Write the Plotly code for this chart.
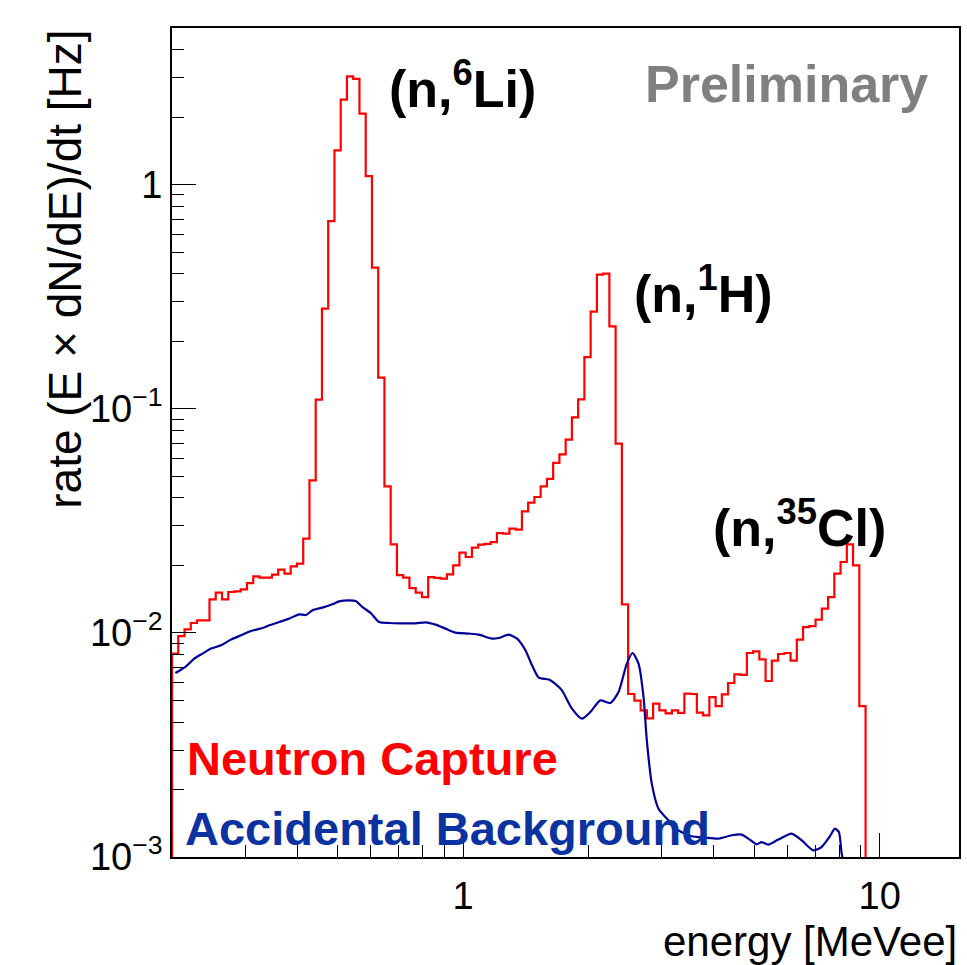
import numpy as np
import plotly.graph_objects as go

# ---------------- data ----------------
# Neutron-capture spectrum: histogram with log-uniform bins starting at 0.2 MeVee
bin_start = 0.2          # MeVee, lower edge of first bin
bin_dlog = 0.015         # bin width in decades
capture_rate = [
    0.00808, 0.00968, 0.01037, 0.01107, 0.01138, 0.01138, 0.01411, 0.01512, 0.01411, 0.01522,
    0.01533, 0.01564, 0.01669, 0.01788, 0.01764, 0.01764, 0.01820, 0.01915, 0.01838, 0.01981,
    0.02037, 0.02634, 0.04794, 0.1098, 0.2797, 0.688, 1.422, 2.394, 3.042, 2.965,
    2.074, 1.092, 0.4263, 0.1377, 0.04507, 0.02484, 0.01812, 0.01764, 0.01585, 0.01512,
    0.01445, 0.01775, 0.01760, 0.01746, 0.01826, 0.02001, 0.02281, 0.02181, 0.02402, 0.02476,
    0.02496, 0.02543, 0.02789, 0.02772, 0.02918, 0.02888, 0.03485, 0.03814, 0.04039, 0.04507,
    0.04869, 0.05738, 0.06260, 0.07283, 0.09157, 0.1102, 0.1701, 0.2713, 0.3971, 0.4008,
    0.2332, 0.0699, 0.01341, 0.005337, 0.004985, 0.004513, 0.004157, 0.004834, 0.004513, 0.004376,
    0.004513, 0.004398, 0.005358, 0.005337, 0.004412, 0.004287, 0.005173, 0.004711, 0.005320, 0.005975,
    0.006533, 0.006500, 0.008131, 0.008275, 0.007621, 0.006099, 0.007520, 0.008049, 0.008131, 0.007520,
    0.009331, 0.01062, 0.01073, 0.01146, 0.01283, 0.01445, 0.01838, 0.02071, 0.02484, 0.02001,
    0.004711, 0, 0, 0, 0, 0, 0, 0, 0, 0,
    0, 0, 0, 0, 0, 0,
]

# Accidental background (smooth curve)
bkg_energy = [
    0.2038, 0.2161, 0.2262, 0.2368, 0.2481, 0.2622, 0.2770, 0.2927, 0.3094, 0.3299,
    0.3423, 0.3617, 0.3822, 0.4040, 0.4193, 0.4348, 0.4592, 0.4853, 0.5036, 0.5321,
    0.5522, 0.5727, 0.5998, 0.6280, 0.6636, 0.7141, 0.7690, 0.8125, 0.8587, 0.9073,
    0.9588, 1.0318, 1.0903, 1.1733, 1.2175, 1.2867, 1.3470, 1.4110, 1.4633, 1.5182,
    1.6045, 1.6797, 1.7268, 1.8246, 1.9281, 2.0195, 2.1341, 2.2555, 2.3605, 2.4711,
    2.5503, 2.6363, 2.7102, 2.7600, 2.8366, 2.9436, 3.1109, 3.2867, 3.5375, 3.8082,
    4.1002, 4.4116, 4.6611, 4.8374, 5.0641, 5.2047, 5.4016, 5.7081, 6.1432, 6.4923,
    6.9247, 7.2493, 7.5925, 7.8054, 7.9799, 8.0950, 8.1718,
]
bkg_rate = [
    0.006621, 0.007093, 0.007679, 0.008081, 0.008509, 0.008802, 0.009331, 0.009752, 0.010193, 0.010512,
    0.010807, 0.011179, 0.011577, 0.012100, 0.012014, 0.012611, 0.012965, 0.013411, 0.013831, 0.013975,
    0.013873, 0.013045, 0.012263, 0.011179, 0.011066, 0.011031, 0.011031, 0.011145, 0.010885, 0.010447,
    0.010028, 0.009925, 0.009822, 0.009427, 0.009485, 0.009822, 0.009427, 0.008361, 0.007166, 0.006316,
    0.006188, 0.005834, 0.005542, 0.004593, 0.004144, 0.004434, 0.005000, 0.004863, 0.005446, 0.007292,
    0.008131, 0.007292, 0.005173, 0.003317, 0.002125, 0.001643, 0.001458, 0.001315, 0.001237, 0.001220,
    0.001208, 0.001250, 0.001259, 0.001208, 0.001139, 0.001166, 0.001136, 0.001196, 0.001272, 0.001188,
    0.001071, 0.001108, 0.001237, 0.001338, 0.001292, 0.00105, 0.00095,
]

x_ticks = [1, 10]
x_ticktext = ["1", "10"]
y_ticks = [0.001, 0.01, 0.1, 1]
y_ticktext = ["10<sup>\u22123</sup>", "10<sup>\u22122</sup>", "10<sup>\u22121</sup>", "1"]
x_minor = [0.3, 0.4, 0.5, 0.6, 0.7, 0.8, 0.9, 2, 3, 4, 5, 6, 7, 8, 9]
y_minor = [0.002, 0.003, 0.004, 0.005, 0.006, 0.007, 0.008, 0.009,
           0.02, 0.03, 0.04, 0.05, 0.06, 0.07, 0.08, 0.09,
           0.2, 0.3, 0.4, 0.5, 0.6, 0.7, 0.8, 0.9, 2, 3, 4]

X_MIN, X_MAX = 0.2, 15.5
Y_MIN, Y_MAX = 1e-3, 5.0

# ---------------- figure ----------------
W, H = 967, 965
ML, MR, MT, MB = 172, 6, 28, 108
PW, PH = W - ML - MR, H - MT - MB


def px(xp):
    return (xp - ML) / PW


def py(yp):
    return (H - MB - yp) / PH


n_bins = len(capture_rate)
edges = bin_start * 10 ** (bin_dlog * np.arange(n_bins + 1))
floor = 1e-4  # empty bins drawn below the axis like ROOT
vals = [v if v > 0 else floor for v in capture_rate]
hx = [edges[0]] + list(edges)
hy = [floor] + vals + [vals[-1]]

fig = go.Figure()
fig.add_trace(go.Scatter(
    x=hx, y=hy, mode="lines", line=dict(color="#ff0000", width=2.2, shape="hv"),
    showlegend=False, hoverinfo="skip"))
fig.add_trace(go.Scatter(
    x=bkg_energy, y=bkg_rate, mode="lines",
    line=dict(color="#000099", width=2.2, shape="spline", smoothing=0.6),
    showlegend=False, hoverinfo="skip"))

font = "Liberation Sans, Arial, Helvetica, sans-serif"

fig.update_layout(
    width=W, height=H, margin=dict(l=ML, r=MR, t=MT, b=MB),
    paper_bgcolor="white", plot_bgcolor="white",
    font=dict(family=font, color="black"),
    xaxis=dict(type="log", range=[np.log10(X_MIN), np.log10(X_MAX)],
               tickmode="array", tickvals=x_ticks, ticktext=x_ticktext,
               ticks="inside", ticklen=24, tickwidth=1.2, tickcolor="black",
               ticklabelstandoff=4,
               showgrid=False, zeroline=False,
               showline=True, linecolor="black", linewidth=1.8, mirror=True,
               tickfont=dict(size=38, family=font),
               minor=dict(tickmode="array", tickvals=x_minor, ticks="inside",
                          ticklen=12, tickwidth=1.2, tickcolor="black", showgrid=False)),
    yaxis=dict(type="log", range=[np.log10(Y_MIN), np.log10(Y_MAX)],
               tickmode="array", tickvals=y_ticks, ticktext=y_ticktext,
               ticks="inside", ticklen=24, tickwidth=1.2, tickcolor="black",
               showgrid=False, zeroline=False,
               showline=True, linecolor="black", linewidth=1.8, mirror=True,
               tickfont=dict(size=38, family=font),
               minor=dict(tickmode="array", tickvals=y_minor, ticks="inside",
                          ticklen=12, tickwidth=1.2, tickcolor="black", showgrid=False)),
)

ann = []


def add(text, xp, yp, size, color="black", xanchor="left", yanchor="middle", bold=True, angle=0):
    t = f"<b>{text}</b>" if bold else text
    ann.append(dict(text=t, x=px(xp), y=py(yp), xref="paper", yref="paper",
                    xanchor=xanchor, yanchor=yanchor, showarrow=False, textangle=angle,
                    font=dict(size=size, color=color, family=font)))


add("(n,<sup>6</sup>Li)", 388, 85, 52)
add("(n,<sup>1</sup>H)", 633, 290, 52)
add("(n,<sup>35</sup>Cl)", 712, 524, 52)
add("Preliminary", 932, 84, 52, color="#808080", xanchor="right")
add("Neutron Capture", 185, 758, 47, color="#ff0000")
add("Accidental Background", 183, 828, 47, color="#0a32a0")
add("energy [MeVee]", 961, 942, 42, xanchor="right", bold=False)
add("rate (E \u00d7 dN/dE)/dt [Hz]", 64, 28, 46, xanchor="center", yanchor="top",
    bold=False, angle=-90)

fig.update_layout(annotations=ann)
fig.write_html("out.html")
